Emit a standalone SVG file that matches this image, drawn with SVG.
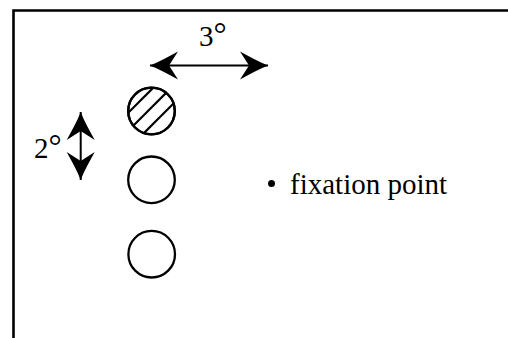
<svg xmlns="http://www.w3.org/2000/svg" width="508" height="338" viewBox="0 0 508 338">
  <style>
    .frame { fill: none; stroke: #000; stroke-width: 2.6; }
    .ring { fill: #fff; stroke: #000; stroke-width: 2.3; }
    .hatch { stroke: #000; stroke-width: 2.2; }
    .shaft { stroke: #000; stroke-width: 2; fill: none; }
    .lbl { font-family: "Liberation Serif", "Times New Roman", serif; font-size: 29px; fill: #000; }
    .deg { font-size: 33px; }
  </style>
  <defs>
    <marker id="head" markerUnits="userSpaceOnUse" viewBox="-31 -15 33 30" refX="0" refY="0" markerWidth="33" markerHeight="30" orient="auto-start-reverse">
      <path d="M0,0 C-9,-3.5 -19,-9 -28,-14 L-19,0 L-28,14 C-19,9 -9,3.5 0,0 Z" fill="#000"/>
    </marker>
    <clipPath id="clipTop">
      <circle cx="151.5" cy="111" r="23.3"/>
    </clipPath>
  </defs>
  <rect width="508" height="338" fill="#fff"/>
  <path class="frame" d="M13.5,338 V10.5 H508"/>

  <g id="connectors">
    <line class="shaft" x1="150" y1="65.5" x2="268" y2="65.5" marker-start="url(#head)" marker-end="url(#head)"/>
    <line class="shaft" x1="80.7" y1="112" x2="80.7" y2="180" marker-start="url(#head)" marker-end="url(#head)"/>
  </g>

  <g id="label-3deg">
    <text class="lbl" x="199" y="46">3<tspan class="deg" dy="-1">°</tspan></text>
  </g>
  <g id="label-2deg">
    <text class="lbl" x="34" y="158">2<tspan class="deg" dy="-1">°</tspan></text>
  </g>

  <g id="stimulus-top">
    <circle class="ring" cx="151.5" cy="111" r="23.3"/>
    <g clip-path="url(#clipTop)">
      <line class="hatch" x1="100" y1="141" x2="160" y2="81"/>
      <line class="hatch" x1="110" y1="149" x2="175" y2="84"/>
      <line class="hatch" x1="120" y1="157" x2="190" y2="87"/>
    </g>
    <circle cx="151.5" cy="111" r="23.3" fill="none" stroke="#000" stroke-width="2.3"/>
  </g>
  <g id="stimulus-middle">
    <circle class="ring" cx="151.5" cy="179.8" r="23.3"/>
  </g>
  <g id="stimulus-bottom">
    <circle class="ring" cx="151.7" cy="254.2" r="23.3"/>
  </g>

  <g id="fixation-point">
    <circle cx="271.5" cy="183.5" r="3.5" fill="#000"/>
    <text class="lbl" x="290" y="193.5">fixation point</text>
  </g>
</svg>
